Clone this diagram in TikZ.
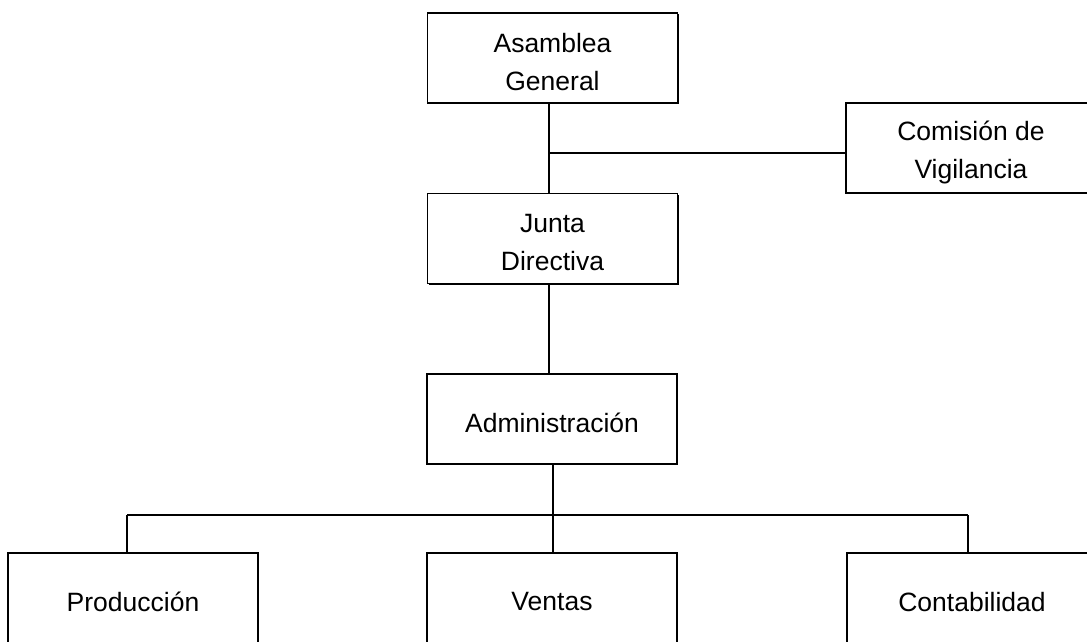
\documentclass[tikz,border=0pt]{standalone}
\usepackage{fontspec}
\setmainfont{Liberation Sans}
\usetikzlibrary{shadows}
\tikzset{
  orgbox/.style={draw=black, line width=1.6pt, fill=white, minimum width=250pt, minimum height=90pt,
    inner sep=0pt,
    drop shadow={shadow xshift=1.3pt, shadow yshift=-1.3pt, fill=black, opacity=1}},
  boxtext/.style={inner sep=0pt, align=center, yshift=-4pt, font=\fontsize{26.5}{38}\selectfont},
  conn/.style={draw=black, line width=1.5pt}
}
\begin{document}
\begin{tikzpicture}[x=1pt,y=-1pt]
\useasboundingbox (0,0) rectangle (1087,641);
\fill[white] (0,0) rectangle (1087,641);
% connectors
\coordinate (t1) at (549,103);
\coordinate (jn) at (549,153);
\coordinate (t2) at (549,193);
\coordinate (t3) at (549,284);
\coordinate (t4) at (549,374);
\coordinate (b1) at (553,464);
\coordinate (hb) at (553,515);
\coordinate (hl) at (127,515);
\coordinate (hr) at (968,515);
\coordinate (pl) at (127,553);
\coordinate (vm) at (553,553);
\coordinate (cr) at (968,553);
\coordinate (cw) at (846,153);
\draw[conn] (t1) -- (t2);
\draw[conn] (jn) -- (cw);
\draw[conn] (t3) -- (t4);
\draw[conn] (b1) -- (vm);
\draw[conn] (hl) -- (hr);
\draw[conn] (hl) -- (pl);
\draw[conn] (hr) -- (cr);
% boxes
\node[orgbox, label={[boxtext]center:Asamblea\\General}] (asa) at (552.5,58) {};
\node[orgbox, label={[boxtext]center:Comisión de\\Vigilancia}] (com) at (971,148) {};
\node[orgbox, label={[boxtext]center:Junta\\Directiva}] (jun) at (552.5,238.5) {};
\node[orgbox, label={[boxtext]center:Administración}] (adm) at (552,419) {};
\node[orgbox, label={[boxtext]center:Producción}] (pro) at (133,598) {};
\node[orgbox, label={[boxtext]center:Ventas}] (ven) at (552,598) {};
\node[orgbox, label={[boxtext]center:Contabilidad}] (con) at (972,598) {};
\end{tikzpicture}
\end{document}
